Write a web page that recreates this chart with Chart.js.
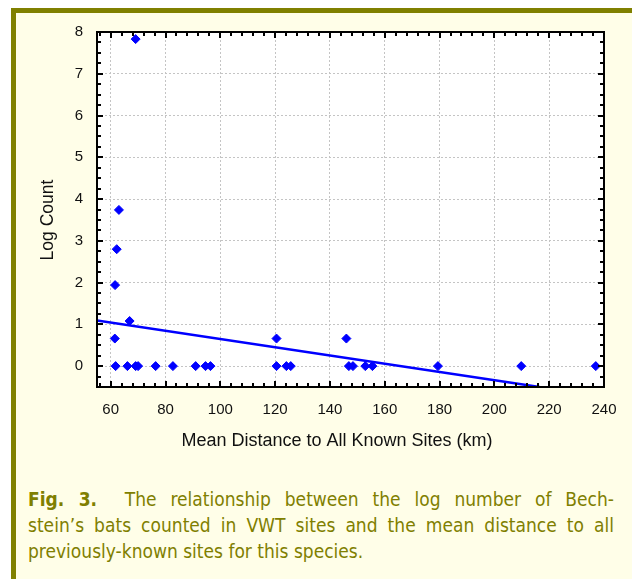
<!DOCTYPE html>
<html>
<head>
<meta charset="utf-8">
<script src="https://cdn.jsdelivr.net/npm/chart.js@4.4.1/dist/chart.umd.min.js"></script>
<style>
  html, body { margin: 0; padding: 0; background: #ffffff; }
  body { width: 632px; height: 579px; position: relative; overflow: hidden; }
  #panel {
    position: absolute; left: 11px; top: 8px; right: 0; bottom: 0;
    background: #fffee8;
    border-left: 5px solid #808000;
    border-top: 5px solid #808000;
  }
  #chart { position: absolute; left: 0; top: 0; }
  #caption {
    position: absolute; left: 28px; top: 486px; width: 586px;
    font-family: Tahoma, "DejaVu Sans Condensed", Lato, sans-serif;
    font-size: 19px; line-height: 26px; color: #7f7f00;
  }
  #caption div { white-space: nowrap; text-align: justify; text-align-last: justify; }
  #caption div.last { text-align-last: left; }
</style>
</head>
<body>
<div id="panel"></div>
<canvas id="chart" width="632" height="470"></canvas>
<div id="caption">
  <div><b>Fig. 3.</b>&nbsp; The relationship between the log number of Bech-</div>
  <div>stein’s bats counted in VWT sites and the mean distance to all</div>
  <div class="last">previously-known sites for this species.</div>
</div>
<script>
// sites: mean distance to known sites (km) and log count
const distanceKm = [69.1, 63.0, 62.2, 61.6, 66.9, 61.5, 120.5, 146.0,
  61.8, 66.1, 69.1, 70.0, 76.4, 82.7, 91.0, 94.6, 96.4, 120.5, 124.1, 125.7,
  146.9, 148.4, 152.9, 155.5, 179.4, 209.8, 237.0];
const logCount = [7.83, 3.74, 2.80, 1.94, 1.08, 0.66, 0.66, 0.66,
  0, 0, 0, 0, 0, 0, 0, 0, 0, 0, 0, 0,
  0, 0, 0, 0, 0, 0, 0];

// fitted line
const fitX = [55, 216.5];
const fitY = [1.09, -0.5];

const xTicks = [60, 80, 100, 120, 140, 160, 180, 200, 220, 240];
const yTicks = [0, 1, 2, 3, 4, 5, 6, 7, 8];

const xTitle = "Mean Distance to All Known Sites (km)";
const yTitle = "Log Count";

const plotFrame = {
  id: "plotFrame",
  beforeDraw(chart) {
    const { ctx, chartArea: a } = chart;
    ctx.save();
    ctx.fillStyle = "#ffffff";
    ctx.fillRect(a.left, a.top, a.right - a.left, a.bottom - a.top);
    ctx.restore();
  },
  afterDraw(chart) {
    const { ctx, chartArea: a, scales: { x, y } } = chart;
    ctx.save();
    ctx.strokeStyle = "#000";
    ctx.lineWidth = 2;
    ctx.strokeRect(a.left, a.top, a.right - a.left, a.bottom - a.top);

    // inward ticks, minor every 4 km / 0.25
    ctx.beginPath();
    for (let v = Math.ceil(x.min / 4) * 4; v < x.max; v += 4) {
      const px = Math.round(x.getPixelForValue(v));
      const len = v % 20 === 0 ? 6 : 4;
      ctx.moveTo(px, a.bottom); ctx.lineTo(px, a.bottom - len);
      ctx.moveTo(px, a.top); ctx.lineTo(px, a.top + len);
    }
    for (let i = Math.ceil(y.min * 4) + 1; i < y.max * 4; i++) {
      const py = Math.round(y.getPixelForValue(i / 4));
      const len = i % 4 === 0 ? 6 : 4;
      ctx.moveTo(a.left, py); ctx.lineTo(a.left + len, py);
      ctx.moveTo(a.right, py); ctx.lineTo(a.right - len, py);
    }
    ctx.stroke();

    // axis titles
    ctx.fillStyle = "#111";
    ctx.font = "18px 'Liberation Sans', Arial, sans-serif";
    ctx.textAlign = "center";
    ctx.textBaseline = "middle";
    ctx.fillText(xTitle, 337, 441);
    ctx.translate(48, 220);
    ctx.rotate(-Math.PI / 2);
    ctx.font = "17.5px 'Liberation Sans', Arial, sans-serif";
    ctx.fillText(yTitle, 0, 0);
    ctx.restore();
  }
};

const tickFont = { family: "'Liberation Sans', Arial, sans-serif", size: 15 };

new Chart(document.getElementById("chart").getContext("2d"), {
  type: "scatter",
  data: {
    datasets: [
      {
        type: "line",
        data: fitX.map((v, i) => ({ x: v, y: fitY[i] })),
        borderColor: "#0000ff",
        borderWidth: 2.5,
        pointRadius: 0,
        fill: false
      },
      {
        data: distanceKm.map((v, i) => ({ x: v, y: logCount[i] })),
        pointStyle: "rectRot",
        pointRadius: 4.5,
        pointBackgroundColor: "#0000ff",
        pointBorderColor: "#0000ff",
        pointBorderWidth: 1
      }
    ]
  },
  options: {
    responsive: false,
    animation: false,
    devicePixelRatio: 1,
    layout: { padding: { left: 0, top: 32, right: 28, bottom: 0 } },
    plugins: { legend: { display: false }, tooltip: { enabled: false } },
    scales: {
      x: {
        type: "linear",
        min: 55,
        max: 240,
        afterBuildTicks: s => { s.ticks = xTicks.map(v => ({ value: v })); },
        afterFit: s => { s.height = 83; },
        ticks: { font: tickFont, color: "#111", padding: 14, maxRotation: 0, autoSkip: false },
        grid: { color: "#c4c4c4", lineWidth: 1, drawTicks: false },
        border: { display: false, dash: [2, 2] }
      },
      y: {
        min: -0.5,
        max: 8,
        afterBuildTicks: s => { s.ticks = yTicks.map(v => ({ value: v })); },
        afterFit: s => { s.width = 97; },
        ticks: { font: tickFont, color: "#111", padding: 14 },
        grid: { color: "#c4c4c4", lineWidth: 1, drawTicks: false },
        border: { display: false, dash: [2, 2] }
      }
    }
  },
  plugins: [plotFrame]
});
</script>
</body>
</html>
